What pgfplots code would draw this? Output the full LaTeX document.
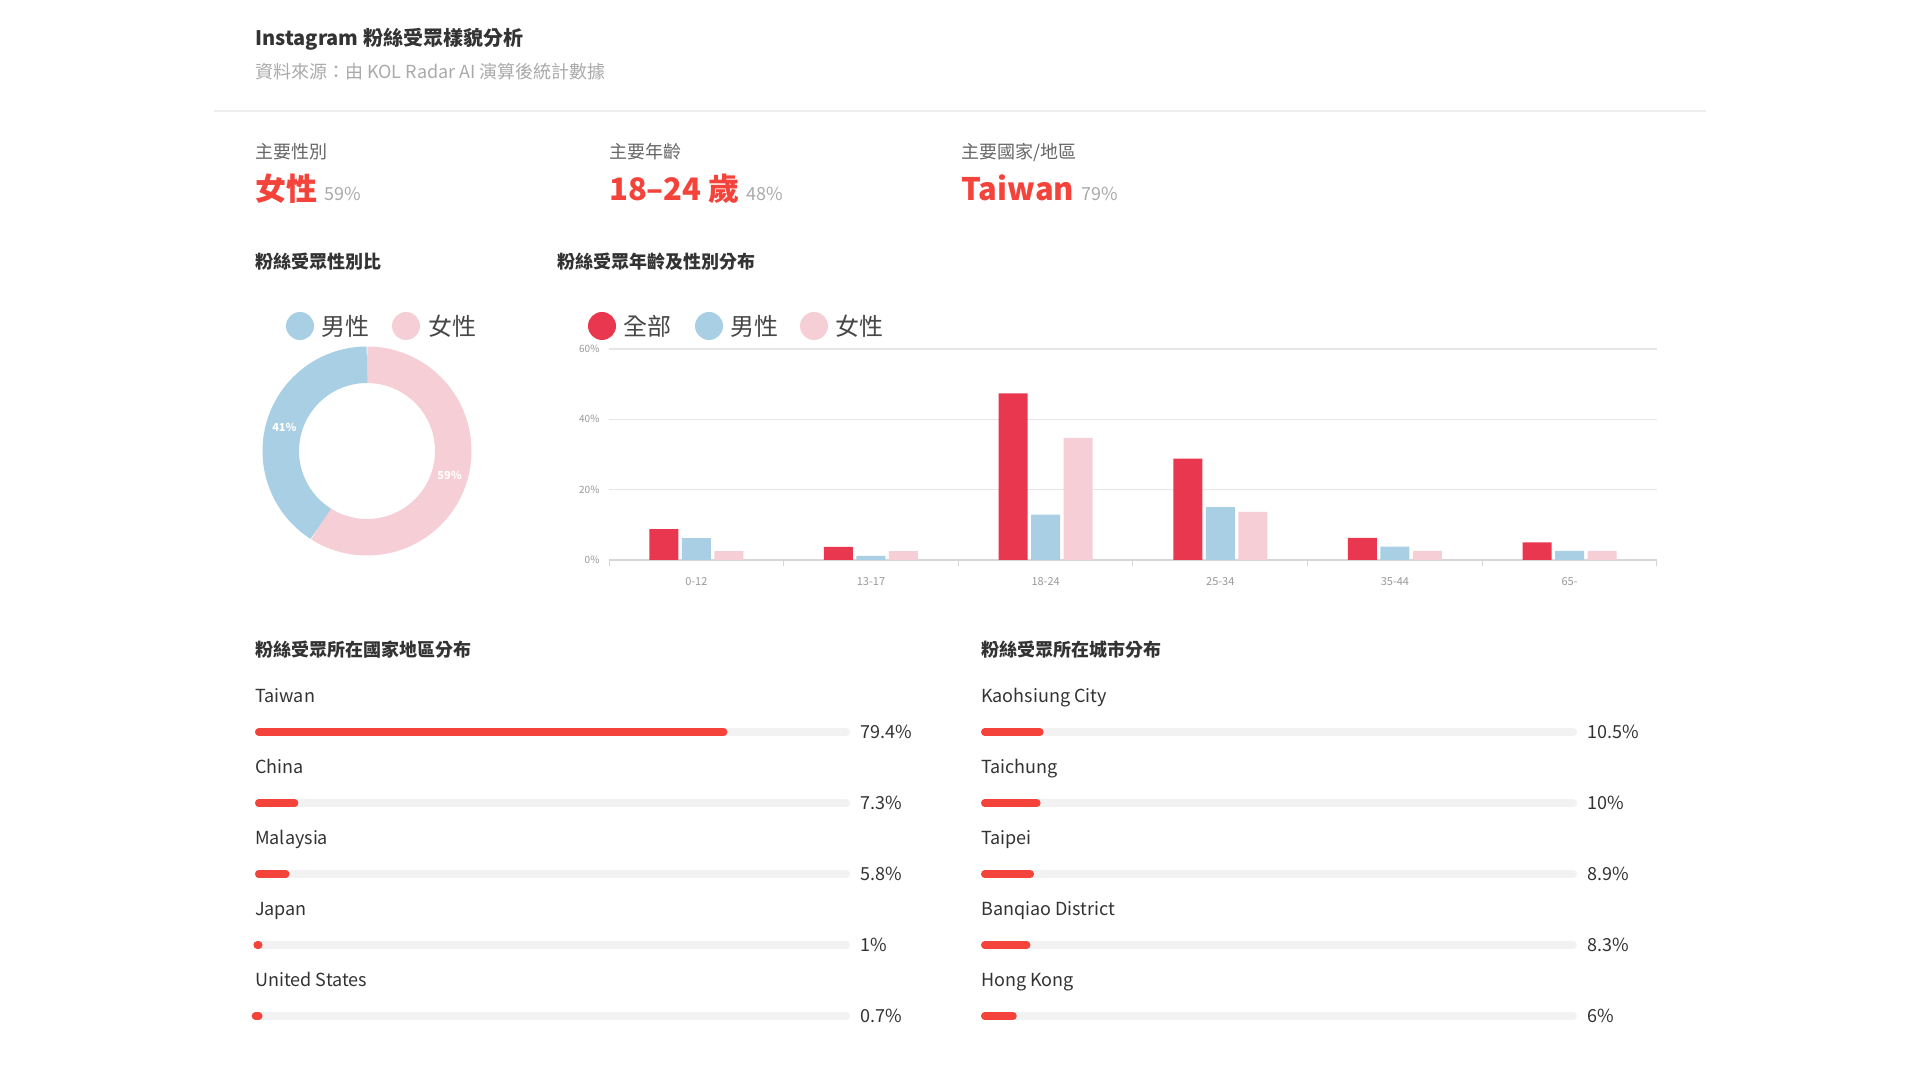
\documentclass[border=0pt]{standalone}
\usepackage{pgfplots}
\pgfplotsset{compat=1.18}
\usepackage{fontspec}
\setmainfont{Noto Sans CJK TC}
\definecolor{kred}{HTML}{F4433A}
\definecolor{kall}{HTML}{E9374F}
\definecolor{kmale}{HTML}{A8CFE3}
\definecolor{kfemale}{HTML}{F6CED5}
\definecolor{ktitle}{HTML}{333333}
\definecolor{ksub}{HTML}{AAAAAA}
\definecolor{klabel}{HTML}{666666}
\definecolor{ktrack}{HTML}{F2F2F2}
\definecolor{kgrid}{HTML}{E6E6E6}
\definecolor{kaxis}{HTML}{D6D6D6}
\definecolor{ktick}{HTML}{999999}
\definecolor{ksep}{HTML}{EEEEEE}
\newcommand\fs[1]{\fontsize{#1}{#1}\selectfont}
\def\male{41}
\def\female{59}
\pgfplotsset{
  track/.style={ktrack,line width=7.5pt,line cap=round,shorten <=3.75pt,shorten >=3.75pt},
  prog/.style={kred,line width=7.5pt,line cap=round,shorten <=3.75pt,shorten >=3.75pt},
}
\begin{document}
\begin{tikzpicture}[x=1pt,y=1pt]
\path[use as bounding box,fill=white] (0pt,0pt) rectangle (1920pt,1080pt);
% header
\node[anchor=west,inner sep=0,text=ktitle] at (255pt,1041pt) {\fs{20}\bfseries Instagram 粉絲受眾樣貌分析};
\node[anchor=west,inner sep=0,text=ksub] at (255pt,1008pt) {\fs{18}資料來源：由 KOL Radar AI 演算後統計數據};
\draw[ksep,line width=2pt] (214pt,969pt) -- (1706pt,969pt);
% KPIs
\node[anchor=west,inner sep=0,text=klabel] at (255pt,928pt) {\fs{18}主要性別};
\node[anchor=west,inner sep=0,text=klabel] at (609pt,928pt) {\fs{18}主要年齡};
\node[anchor=west,inner sep=0,text=klabel] at (961pt,928pt) {\fs{18}主要國家/地區};
\node[anchor=base west,inner sep=0] at (255pt,879.5pt) {{\fs{31}\bfseries\color{kred}女性}\hspace{7pt}{\fs{18}\color{ksub}59\%}};
\node[anchor=base west,inner sep=0] at (609pt,879.5pt) {{\fs{31}\bfseries\color{kred}18–24 歲}\hspace{7pt}{\fs{18}\color{ksub}48\%}};
\node[anchor=base west,inner sep=0] at (961pt,879.5pt) {{\fs{31}\bfseries\color{kred}Taiwan}\hspace{7pt}{\fs{18}\color{ksub}79\%}};
% section titles
\node[anchor=west,inner sep=0,text=ktitle] at (255pt,818pt) {\fs{18}\bfseries 粉絲受眾性別比};
\node[anchor=west,inner sep=0,text=ktitle] at (557pt,818pt) {\fs{18}\bfseries 粉絲受眾年齡及性別分布};
\node[anchor=west,inner sep=0,text=ktitle] at (255pt,430pt) {\fs{18}\bfseries 粉絲受眾所在國家地區分布};
\node[anchor=west,inner sep=0,text=ktitle] at (981pt,430pt) {\fs{18}\bfseries 粉絲受眾所在城市分布};
% donut legend
\fill[kmale] (300pt,754pt) circle (14pt);
\node[anchor=west,inner sep=0,text=ktitle!90] at (321pt,754pt) {\fs{24}男性};
\fill[kfemale] (406pt,754pt) circle (14pt);
\node[anchor=west,inner sep=0,text=ktitle!90] at (428pt,754pt) {\fs{24}女性};
% bar legend
\fill[kall] (602pt,754pt) circle (14pt);
\node[anchor=west,inner sep=0,text=ktitle!90] at (623pt,754pt) {\fs{24}全部};
\fill[kmale] (709pt,754pt) circle (14pt);
\node[anchor=west,inner sep=0,text=ktitle!90] at (730pt,754pt) {\fs{24}男性};
\fill[kfemale] (814pt,754pt) circle (14pt);
\node[anchor=west,inner sep=0,text=ktitle!90] at (835pt,754pt) {\fs{24}女性};
% donut
\begin{axis}[at={(367pt,629pt)},anchor=center,hide axis,scale only axis,width=210pt,height=210pt,
  xmin=-1,xmax=1,ymin=-1,ymax=1,clip=false]
\draw[line width=36.5pt,kfemale] (axis cs:0,0) ++(90:86.25pt) arc[start angle=90,end angle={90-\female*3.6},radius=86.25pt];
\draw[line width=36.5pt,kmale] (axis cs:0,0) ++(90:86.25pt) arc[start angle=90,end angle={90+\male*3.6},radius=86.25pt];
\path (axis cs:0,0) ++({90+\male*1.8}:86pt) node[text=white,font=\fs{11}\bfseries] {\male\%};
\path (axis cs:0,0) ++({90-\female*1.8}:86pt) node[text=white,font=\fs{11}\bfseries] {\female\%};
\end{axis}
% age bar chart
\begin{axis}[at={(609pt,520pt)},anchor=south west,scale only axis,width=1048pt,height=211pt,
  ybar=3.5pt,bar width=29pt,enlargelimits=false,
  xmin=-0.5,xmax=5.5,ymin=0,ymax=60,
  xtick={-0.5,0.5,...,5.5},xticklabels={0-12,13-17,18-24,25-34,35-44,65-},
  x tick label as interval,
  ytick={0,20,40,60},yticklabels={0\%,20\%,40\%,60\%},
  axis x line=bottom,axis y line=left,
  x axis line style={-,draw=kaxis,line width=1.5pt},
  y axis line style={draw=none},
  ytick style={draw=none},
  xtick style={draw=kaxis,line width=1pt},
  tick align=outside,major tick length=6pt,
  ymajorgrids,grid style={kgrid,line width=1.2pt},
  x tick label style={font=\fs{11},text=ktick,yshift=-8pt},
  y tick label style={font=\fs{10},text=ktick}]
\addplot[fill=kall,draw=none] coordinates {(0,8.8) (1,3.7) (2,47.4) (3,28.8) (4,6.3) (5,5.0)};
\addplot[fill=kmale,draw=none] coordinates {(0,6.2) (1,1.2) (2,12.9) (3,15.0) (4,3.8) (5,2.6)};
\addplot[fill=kfemale,draw=none] coordinates {(0,2.5) (1,2.5) (2,34.7) (3,13.7) (4,2.6) (5,2.6)};
\end{axis}
% country list
\begin{axis}[at={(255pt,64pt)},anchor=south west,scale only axis,width=595pt,height=284pt,
  hide axis,clip=false,xmin=0,xmax=100,ymin=0,ymax=4]
\addplot[track] coordinates {(0,4) (100,4)};
\addplot[track] coordinates {(0,3) (100,3)};
\addplot[track] coordinates {(0,2) (100,2)};
\addplot[track] coordinates {(0,1) (100,1)};
\addplot[track] coordinates {(0,0) (100,0)};
\addplot[prog] coordinates {(0,4) (79.4,4)};
\addplot[prog] coordinates {(0,3) (7.3,3)};
\addplot[prog] coordinates {(0,2) (5.8,2)};
\addplot[prog] coordinates {(0,1) (1,1)};
\addplot[prog] coordinates {(0,0) (0.7,0)};
\foreach \y/\n/\v in {4/Taiwan/79.4,3/China/7.3,2/Malaysia/5.8,1/Japan/1,0/United States/0.7}{
  \edef\tmp{\noexpand\node[anchor=base west,inner sep=0,text=ktitle,font=\noexpand\fs{18},yshift=30pt] at (axis cs:0,\y) {\n};
  \noexpand\node[anchor=base west,inner sep=0,text=ktitle,font=\noexpand\fs{18},xshift=10pt,yshift=-6.5pt] at (axis cs:100,\y) {\v\noexpand\%};}
  \tmp
}
\end{axis}
% city list
\begin{axis}[at={(981pt,64pt)},anchor=south west,scale only axis,width=596pt,height=284pt,
  hide axis,clip=false,xmin=0,xmax=100,ymin=0,ymax=4]
\addplot[track] coordinates {(0,4) (100,4)};
\addplot[track] coordinates {(0,3) (100,3)};
\addplot[track] coordinates {(0,2) (100,2)};
\addplot[track] coordinates {(0,1) (100,1)};
\addplot[track] coordinates {(0,0) (100,0)};
\addplot[prog] coordinates {(0,4) (10.5,4)};
\addplot[prog] coordinates {(0,3) (10,3)};
\addplot[prog] coordinates {(0,2) (8.9,2)};
\addplot[prog] coordinates {(0,1) (8.3,1)};
\addplot[prog] coordinates {(0,0) (6,0)};
\foreach \y/\n/\v in {4/Kaohsiung City/10.5,3/Taichung/10,2/Taipei/8.9,1/Banqiao District/8.3,0/Hong Kong/6}{
  \edef\tmp{\noexpand\node[anchor=base west,inner sep=0,text=ktitle,font=\noexpand\fs{18},yshift=30pt] at (axis cs:0,\y) {\n};
  \noexpand\node[anchor=base west,inner sep=0,text=ktitle,font=\noexpand\fs{18},xshift=10pt,yshift=-6.5pt] at (axis cs:100,\y) {\v\noexpand\%};}
  \tmp
}
\end{axis}
\end{tikzpicture}
\end{document}
